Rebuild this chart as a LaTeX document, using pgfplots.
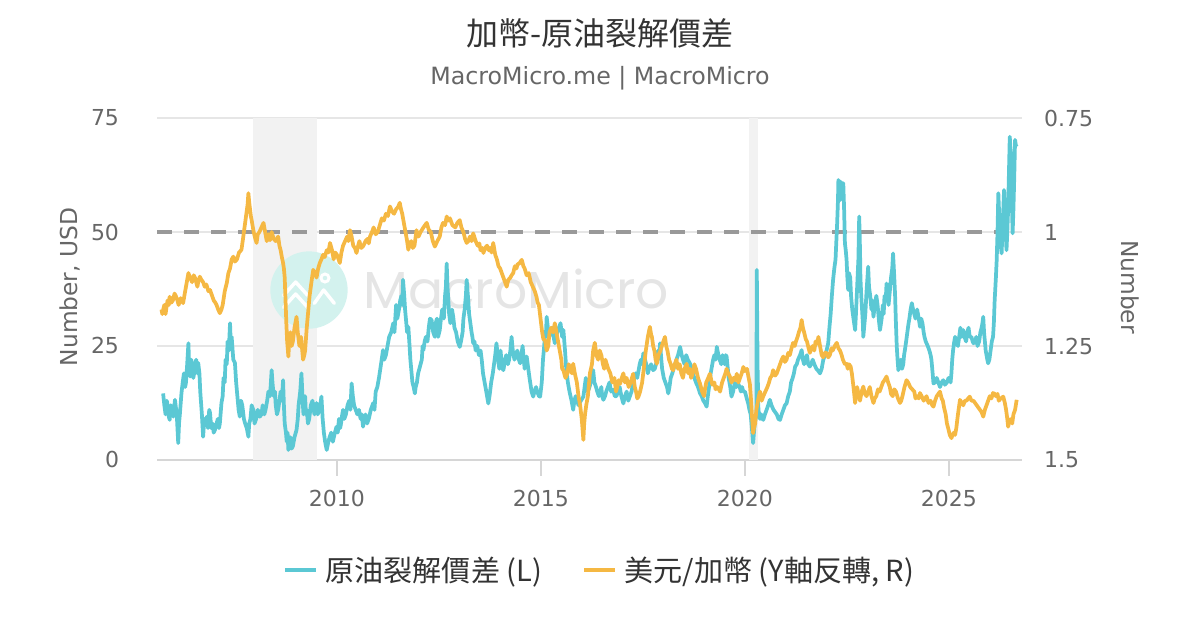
\documentclass[border=0pt]{standalone}
\usepackage{pgfplots}
\pgfplotsset{compat=1.18}
\usepackage{fontspec}
\setmainfont{DejaVu Sans}
\newfontfamily\cjk{Noto Sans CJK TC}
\newfontfamily\wm{Poppins}
\definecolor{cyanL}{HTML}{5BC8D4}
\definecolor{orangeR}{HTML}{F5B843}
\definecolor{gridc}{HTML}{E6E6E6}
\definecolor{dashc}{HTML}{999999}
\definecolor{recc}{HTML}{F2F2F2}
\definecolor{txt}{HTML}{666666}
\definecolor{ttl}{HTML}{333333}
\definecolor{tickc}{HTML}{D6D6D6}
\definecolor{wmc}{HTML}{E5E5E5}
\definecolor{logoc}{HTML}{D3F2EE}

\pgfplotstableread{
x y
2005.74 14.6
2005.77 12
2005.80 10
2005.83 13
2005.85 12
2005.88 9.5
2005.90 8.8
2005.93 12
2005.95 11.5
2005.99 9.5
2006.03 13.2
2006.06 11
2006.08 9
2006.11 3.7
2006.13 8
2006.15 10
2006.19 14.7
2006.22 17
2006.25 19
2006.28 16
2006.30 17
2006.33 21
2006.36 25.6
2006.38 20
2006.40 18.3
2006.43 22
2006.45 21
2006.48 18
2006.50 19
2006.53 21
2006.55 22
2006.58 19
2006.60 21.3
2006.63 19
2006.65 15
2006.69 10
2006.72 5.1
2006.75 9
2006.78 8
2006.81 9.5
2006.84 7
2006.87 11
2006.89 10.3
2006.92 7
2006.95 8
2006.98 6
2007.01 6.6
2007.05 8
2007.08 9
2007.11 7
2007.13 8
2007.17 12.5
2007.20 14
2007.22 18
2007.25 17
2007.27 22
2007.30 21
2007.32 26
2007.35 24
2007.38 30
2007.40 25
2007.42 27
2007.46 22
2007.50 21.3
2007.53 17
2007.56 14
2007.59 11
2007.62 9.5
2007.65 13
2007.68 12
2007.72 9
2007.75 8
2007.79 7
2007.83 5.1
2007.85 8
2007.88 9
2007.91 12
2007.95 11
2007.98 8
2008.02 9
2008.06 11
2008.11 9.5
2008.15 10
2008.18 12
2008.22 10
2008.25 11
2008.29 13
2008.32 15
2008.36 14
2008.40 19.7
2008.42 17
2008.45 14
2008.48 15
2008.50 12
2008.53 10
2008.56 11
2008.59 13
2008.62 15
2008.65 13
2008.68 17.5
2008.70 12
2008.72 8
2008.75 6
2008.77 4
2008.79 6
2008.81 2.2
2008.84 4
2008.86 5
2008.89 2.5
2008.92 3
2008.96 5
2009.01 6.6
2009.04 9
2009.06 12
2009.10 15
2009.13 19
2009.16 13
2009.18 10
2009.20 12
2009.22 14
2009.24 10
2009.26 11
2009.29 8
2009.32 9
2009.36 12
2009.40 13
2009.43 11
2009.45 10
2009.48 11
2009.50 12.5
2009.53 10
2009.56 11
2009.59 12
2009.62 13.9
2009.65 9
2009.68 6
2009.71 4
2009.75 2.2
2009.79 4
2009.82 5
2009.86 6
2009.90 4
2009.95 6
2009.99 7.3
2010.02 6
2010.05 9
2010.08 7
2010.10 8
2010.13 10
2010.15 11
2010.18 9
2010.22 10
2010.26 12
2010.30 13
2010.33 11
2010.36 16.8
2010.39 14
2010.42 12
2010.46 11
2010.50 10
2010.54 11
2010.58 9
2010.61 10
2010.64 7.3
2010.67 9
2010.70 10
2010.74 8
2010.78 9
2010.83 11
2010.89 12.5
2010.92 11
2010.95 15
2010.99 16
2011.03 18
2011.08 21
2011.13 24.1
2011.16 22
2011.20 23
2011.24 25
2011.28 27
2011.33 28
2011.38 30
2011.41 28
2011.45 34
2011.48 31
2011.52 33
2011.55 35
2011.58 36
2011.60 34
2011.62 39.5
2011.65 36
2011.67 33
2011.70 30
2011.72 28
2011.75 29.2
2011.78 25
2011.80 22
2011.83 19
2011.85 17
2011.88 16
2011.91 14.6
2011.93 16
2011.96 17
2011.99 19
2012.02 20
2012.05 21
2012.08 22
2012.10 25
2012.12 24.1
2012.15 26
2012.18 27
2012.22 26
2012.25 29
2012.28 31
2012.32 30.7
2012.36 28
2012.40 27
2012.42 30
2012.45 31
2012.48 27
2012.52 28.5
2012.55 31
2012.58 33
2012.62 31
2012.65 36
2012.67 38
2012.69 43.1
2012.71 38
2012.73 35
2012.75 32
2012.78 30
2012.82 33
2012.85 31.4
2012.88 29
2012.92 28
2012.96 26
2013.01 24.8
2013.04 26
2013.08 28
2013.10 31
2013.13 33
2013.16 36
2013.18 39.5
2013.21 36
2013.24 32
2013.27 30
2013.30 28
2013.32 27
2013.34 25.6
2013.37 26
2013.40 24
2013.44 25
2013.48 23
2013.52 24
2013.55 21.9
2013.58 19
2013.62 17
2013.66 15
2013.71 12.4
2013.74 14
2013.78 17
2013.82 19
2013.85 21
2013.88 23
2013.91 25.6
2013.95 22
2013.98 20
2014.01 24
2014.03 22
2014.06 20
2014.08 19.7
2014.12 22
2014.15 23
2014.19 21
2014.22 22
2014.25 24
2014.28 27
2014.31 24
2014.35 22
2014.39 23
2014.42 24
2014.46 22
2014.49 21.2
2014.52 23
2014.55 25
2014.58 22
2014.60 20
2014.62 21
2014.65 22.7
2014.69 20
2014.72 18
2014.77 15
2014.81 13.9
2014.84 15
2014.88 16
2014.91 15
2014.95 14
2014.98 13.9
2015.02 17
2015.05 22
2015.08 25
2015.10 28
2015.12 27
2015.14 31.4
2015.17 29
2015.20 27
2015.23 28
2015.27 29
2015.31 27
2015.34 25.6
2015.37 27
2015.40 28
2015.44 29
2015.48 30
2015.52 27
2015.55 28.5
2015.59 24
2015.62 20
2015.66 17
2015.70 15
2015.75 13
2015.79 11
2015.82 13
2015.85 14
2015.89 13
2015.92 12
2015.98 13
2016.04 13.9
2016.07 16
2016.10 18
2016.13 16
2016.15 15
2016.19 16
2016.22 17
2016.25 18
2016.28 19.7
2016.31 17
2016.35 16
2016.38 15
2016.42 14
2016.45 15
2016.48 16
2016.50 14
2016.53 13.2
2016.57 14
2016.60 15
2016.64 16
2016.68 17
2016.72 15
2016.77 15.4
2016.81 14
2016.85 14
2016.89 15
2016.93 16
2016.97 14
2017.02 12.4
2017.06 14
2017.10 15
2017.14 13
2017.18 14
2017.22 15
2017.26 16.8
2017.29 18
2017.32 19
2017.36 18
2017.40 20
2017.42 21
2017.45 22
2017.48 21
2017.51 23.4
2017.55 22
2017.58 21
2017.62 19
2017.65 20
2017.70 21
2017.75 19.7
2017.79 20
2017.82 21
2017.85 22
2017.87 24
2017.90 23
2017.92 25.6
2017.95 22
2017.97 20
2018.01 18
2018.05 17
2018.09 16
2018.12 14.6
2018.15 16
2018.18 18
2018.22 19
2018.25 20
2018.29 21
2018.32 22
2018.36 23
2018.41 24.8
2018.45 23
2018.48 22
2018.52 21
2018.56 23
2018.60 22
2018.65 21.2
2018.69 20
2018.72 19
2018.76 18
2018.80 17
2018.85 16
2018.90 14.6
2018.94 14
2018.98 13
2019.02 12.5
2019.06 11.7
2019.09 14
2019.12 16
2019.16 19
2019.20 21
2019.22 22
2019.25 23
2019.28 22
2019.31 24.8
2019.35 23
2019.38 22
2019.42 21
2019.45 23
2019.48 22
2019.50 21
2019.53 23
2019.55 22.7
2019.58 20
2019.60 18
2019.64 16
2019.67 13.9
2019.71 15
2019.75 17
2019.79 16
2019.83 16.8
2019.87 16
2019.90 15
2019.93 16
2019.96 15
2020.00 15
2020.03 14
2020.06 13
2020.08 12.4
2020.11 11
2020.14 10
2020.17 7
2020.20 3.7
2020.22 6
2020.24 8
2020.26 9
2020.28 10
2020.29 41.7
2020.31 20
2020.33 11
2020.37 9
2020.40 10
2020.43 9
2020.45 8.8
2020.49 10
2020.53 11
2020.57 12
2020.61 13.2
2020.65 12
2020.70 11
2020.74 10.5
2020.78 10
2020.82 9
2020.86 8.8
2020.90 10
2020.94 11
2020.98 12
2021.02 12.4
2021.06 14
2021.10 15
2021.13 17
2021.17 18
2021.20 19
2021.23 20.5
2021.27 21
2021.30 22
2021.35 23
2021.39 24.1
2021.42 22
2021.45 21
2021.48 22
2021.52 23
2021.55 21
2021.59 20.5
2021.62 21
2021.66 22
2021.70 21
2021.75 20
2021.80 19.5
2021.84 19
2021.88 20
2021.92 22
2021.96 23
2022.00 24
2022.04 25.6
2022.07 29
2022.10 32
2022.13 36
2022.16 39.5
2022.19 42
2022.22 44
2022.24 48
2022.26 52
2022.28 57
2022.29 61.4
2022.31 59
2022.33 57
2022.35 61
2022.37 60
2022.39 58
2022.41 60.7
2022.43 55
2022.45 47.5
2022.47 46
2022.49 44
2022.51 40
2022.53 37.3
2022.55 41
2022.58 40
2022.60 36
2022.63 33
2022.66 31
2022.70 28.5
2022.72 32
2022.75 38
2022.78 44
2022.80 53.4
2022.82 46
2022.83 40
2022.85 36
2022.87 33
2022.89 30
2022.90 27
2022.93 30
2022.95 32
2022.98 37
2023.02 42.4
2023.04 38
2023.07 36
2023.10 33
2023.12 35
2023.15 31.4
2023.18 34
2023.22 36
2023.25 34
2023.27 32
2023.29 30
2023.31 28.5
2023.35 31
2023.38 34
2023.40 32
2023.42 36
2023.45 35
2023.47 38.7
2023.50 36
2023.52 34
2023.55 37
2023.58 40
2023.61 42
2023.63 45.3
2023.66 40
2023.68 36
2023.70 30
2023.72 25
2023.74 22
2023.76 19.7
2023.79 21
2023.82 22
2023.85 20
2023.88 21
2023.90 23
2023.92 24.1
2023.95 26
2023.98 28
2024.01 30
2024.03 31
2024.06 33
2024.09 34.4
2024.12 33
2024.15 32
2024.18 31
2024.22 33
2024.26 31
2024.29 29.2
2024.32 31
2024.35 30
2024.38 28
2024.40 27
2024.43 26
2024.45 25.6
2024.48 25
2024.52 24
2024.55 23
2024.57 22
2024.60 19
2024.62 16.8
2024.66 17
2024.70 18
2024.74 17
2024.78 16
2024.82 17
2024.86 17.5
2024.90 16.5
2024.95 17
2024.99 18
2025.02 18
2025.04 17
2025.06 19
2025.08 22
2025.10 24
2025.13 26
2025.15 27
2025.18 26
2025.22 25
2025.25 27
2025.28 29
2025.31 27
2025.35 28.5
2025.38 27
2025.42 26
2025.45 28
2025.48 29
2025.51 27
2025.55 27
2025.58 26
2025.60 25.6
2025.64 26
2025.67 27
2025.70 25
2025.74 26
2025.77 28
2025.80 29
2025.82 30
2025.84 31.4
2025.86 28
2025.88 26
2025.90 24
2025.92 23
2025.94 22
2025.96 21.2
2025.99 22
2026.02 24
2026.05 26
2026.08 27
2026.10 30
2026.12 35
2026.15 40
2026.17 43.9
2026.19 50
2026.21 58.5
2026.23 54
2026.25 50
2026.27 47
2026.29 45.3
2026.32 52
2026.35 59.2
2026.37 55
2026.38 52
2026.40 48
2026.41 46
2026.43 50
2026.45 55
2026.47 63
2026.49 70.9
2026.51 68
2026.52 65
2026.54 57
2026.56 49.7
2026.58 55
2026.60 62
2026.62 70.2
2026.64 69
2026.66 68.7
}\crack

\pgfplotstableread{
x y
2005.70 1.17
2005.72 1.18
2005.74 1.171
2005.77 1.16
2005.80 1.18
2005.83 1.16
2005.85 1.15
2005.88 1.16
2005.90 1.142
2005.94 1.155
2005.98 1.15
2006.02 1.135
2006.05 1.14
2006.09 1.15
2006.12 1.16
2006.17 1.145
2006.23 1.156
2006.27 1.135
2006.30 1.12
2006.33 1.105
2006.36 1.09
2006.40 1.10
2006.45 1.11
2006.49 1.095
2006.52 1.10
2006.55 1.11
2006.58 1.12
2006.61 1.105
2006.64 1.098
2006.68 1.105
2006.72 1.11
2006.76 1.12
2006.80 1.115
2006.85 1.13
2006.89 1.127
2006.94 1.14
2006.98 1.15
2007.02 1.155
2007.05 1.16
2007.09 1.17
2007.13 1.178
2007.17 1.17
2007.20 1.16
2007.25 1.13
2007.30 1.112
2007.34 1.09
2007.38 1.08
2007.42 1.06
2007.46 1.054
2007.50 1.065
2007.55 1.06
2007.60 1.045
2007.66 1.039
2007.69 1.02
2007.72 1.00
2007.75 0.98
2007.78 0.96
2007.81 0.94
2007.83 0.915
2007.85 0.935
2007.87 0.95
2007.89 0.965
2007.91 0.974
2007.94 0.99
2007.96 1.00
2008.00 1.015
2008.03 1.024
2008.06 1.005
2008.10 1.00
2008.15 0.99
2008.20 0.98
2008.24 1.00
2008.28 1.02
2008.32 1.005
2008.36 1.018
2008.40 1.00
2008.45 1.015
2008.50 1.02
2008.56 1.01
2008.59 1.03
2008.62 1.04
2008.65 1.055
2008.68 1.068
2008.70 1.08
2008.72 1.10
2008.74 1.15
2008.76 1.20
2008.78 1.24
2008.81 1.273
2008.83 1.24
2008.86 1.22
2008.89 1.25
2008.92 1.24
2008.96 1.21
2009.01 1.186
2009.04 1.22
2009.08 1.25
2009.10 1.24
2009.12 1.23
2009.15 1.26
2009.17 1.28
2009.20 1.27
2009.22 1.26
2009.26 1.21
2009.30 1.17
2009.33 1.14
2009.36 1.12
2009.39 1.10
2009.42 1.083
2009.46 1.09
2009.50 1.10
2009.54 1.08
2009.58 1.068
2009.62 1.06
2009.66 1.05
2009.70 1.055
2009.75 1.04
2009.79 1.045
2009.83 1.024
2009.88 1.04
2009.92 1.06
2009.96 1.045
2010.00 1.05
2010.04 1.06
2010.07 1.068
2010.11 1.045
2010.15 1.03
2010.20 1.02
2010.25 1.01
2010.28 1.02
2010.32 0.996
2010.36 1.01
2010.40 1.03
2010.44 1.035
2010.48 1.046
2010.52 1.03
2010.55 1.02
2010.60 1.035
2010.65 1.03
2010.70 1.02
2010.75 1.015
2010.78 1.025
2010.81 1.01
2010.86 1.00
2010.90 0.99
2010.95 1.005
2011.00 1.00
2011.05 0.985
2011.10 0.97
2011.15 0.975
2011.20 0.96
2011.25 0.965
2011.30 0.944
2011.35 0.955
2011.40 0.96
2011.45 0.95
2011.50 0.945
2011.54 0.936
2011.57 0.95
2011.60 0.96
2011.64 0.98
2011.68 1.00
2011.72 1.02
2011.75 1.039
2011.78 1.025
2011.82 1.02
2011.86 1.035
2011.90 1.03
2011.93 1.01
2011.95 0.996
2012.00 1.01
2012.05 1.00
2012.12 0.99
2012.20 0.98
2012.25 0.995
2012.30 1.00
2012.35 1.02
2012.40 1.032
2012.46 1.02
2012.52 1.01
2012.56 0.99
2012.60 0.98
2012.65 0.985
2012.69 0.966
2012.73 0.975
2012.77 0.97
2012.83 0.985
2012.90 0.99
2012.95 0.98
2013.01 0.974
2013.05 0.99
2013.10 1.00
2013.14 1.015
2013.18 1.024
2013.22 1.02
2013.26 1.01
2013.30 1.02
2013.34 1.003
2013.40 1.02
2013.45 1.03
2013.49 1.025
2013.52 1.04
2013.56 1.035
2013.59 1.046
2013.63 1.035
2013.68 1.03
2013.72 1.04
2013.75 1.035
2013.79 1.045
2013.83 1.024
2013.88 1.05
2013.92 1.06
2013.96 1.075
2014.00 1.08
2014.04 1.09
2014.08 1.10
2014.12 1.11
2014.16 1.12
2014.20 1.105
2014.25 1.10
2014.28 1.095
2014.32 1.09
2014.36 1.075
2014.40 1.08
2014.43 1.07
2014.46 1.07
2014.50 1.065
2014.53 1.061
2014.57 1.075
2014.60 1.08
2014.65 1.095
2014.70 1.09
2014.75 1.11
2014.80 1.12
2014.85 1.13
2014.89 1.142
2014.92 1.155
2014.95 1.16
2014.99 1.19
2015.03 1.22
2015.06 1.235
2015.10 1.237
2015.14 1.26
2015.18 1.25
2015.21 1.22
2015.25 1.21
2015.30 1.22
2015.34 1.20
2015.38 1.22
2015.42 1.24
2015.46 1.26
2015.50 1.28
2015.52 1.30
2015.55 1.303
2015.60 1.32
2015.65 1.31
2015.68 1.29
2015.72 1.30
2015.76 1.31
2015.79 1.289
2015.83 1.31
2015.88 1.33
2015.92 1.36
2015.96 1.38
2016.00 1.41
2016.04 1.456
2016.06 1.42
2016.08 1.40
2016.11 1.38
2016.15 1.36
2016.20 1.31
2016.25 1.29
2016.28 1.26
2016.32 1.243
2016.36 1.27
2016.40 1.28
2016.44 1.26
2016.48 1.27
2016.52 1.29
2016.55 1.30
2016.58 1.28
2016.61 1.289
2016.65 1.30
2016.70 1.31
2016.75 1.33
2016.80 1.32
2016.84 1.35
2016.87 1.34
2016.90 1.325
2016.94 1.333
2016.98 1.32
2017.02 1.31
2017.06 1.33
2017.10 1.32
2017.15 1.34
2017.20 1.33
2017.23 1.32
2017.26 1.311
2017.30 1.34
2017.33 1.35
2017.36 1.365
2017.39 1.361
2017.43 1.35
2017.48 1.33
2017.52 1.30
2017.57 1.26
2017.62 1.23
2017.67 1.208
2017.70 1.225
2017.72 1.23
2017.75 1.25
2017.78 1.26
2017.81 1.28
2017.84 1.289
2017.88 1.27
2017.93 1.26
2017.98 1.245
2018.04 1.23
2018.07 1.25
2018.10 1.26
2018.14 1.28
2018.18 1.29
2018.21 1.30
2018.24 1.303
2018.28 1.29
2018.32 1.28
2018.36 1.30
2018.40 1.29
2018.44 1.31
2018.48 1.32
2018.52 1.30
2018.57 1.289
2018.61 1.31
2018.65 1.30
2018.68 1.32
2018.72 1.31
2018.76 1.29
2018.80 1.30
2018.85 1.32
2018.90 1.333
2018.95 1.35
2019.00 1.36
2019.02 1.345
2019.05 1.33
2019.10 1.32
2019.14 1.311
2019.20 1.335
2019.25 1.33
2019.28 1.345
2019.32 1.34
2019.36 1.345
2019.39 1.35
2019.44 1.33
2019.48 1.32
2019.52 1.31
2019.55 1.30
2019.59 1.31
2019.63 1.317
2019.67 1.33
2019.72 1.32
2019.76 1.325
2019.80 1.311
2019.84 1.33
2019.88 1.32
2019.92 1.31
2019.96 1.296
2020.00 1.305
2020.05 1.30
2020.09 1.32
2020.12 1.333
2020.15 1.37
2020.17 1.40
2020.20 1.441
2020.22 1.43
2020.25 1.42
2020.28 1.39
2020.30 1.38
2020.34 1.36
2020.37 1.35
2020.41 1.37
2020.45 1.36
2020.50 1.35
2020.55 1.34
2020.59 1.33
2020.62 1.32
2020.66 1.315
2020.69 1.303
2020.74 1.315
2020.78 1.31
2020.82 1.30
2020.86 1.29
2020.90 1.28
2020.94 1.273
2020.98 1.285
2021.02 1.28
2021.06 1.265
2021.10 1.27
2021.14 1.255
2021.18 1.243
2021.22 1.25
2021.25 1.24
2021.29 1.23
2021.32 1.22
2021.36 1.21
2021.39 1.193
2021.42 1.21
2021.45 1.22
2021.49 1.235
2021.52 1.24
2021.56 1.255
2021.59 1.265
2021.63 1.255
2021.66 1.25
2021.70 1.26
2021.73 1.24
2021.77 1.245
2021.80 1.23
2021.84 1.25
2021.88 1.27
2021.92 1.275
2021.95 1.265
2022.00 1.265
2022.04 1.275
2022.08 1.27
2022.12 1.255
2022.15 1.26
2022.20 1.25
2022.25 1.243
2022.29 1.255
2022.33 1.26
2022.37 1.27
2022.40 1.28
2022.45 1.29
2022.49 1.289
2022.52 1.30
2022.55 1.29
2022.59 1.295
2022.62 1.31
2022.66 1.34
2022.70 1.375
2022.72 1.36
2022.75 1.34
2022.79 1.36
2022.82 1.37
2022.86 1.35
2022.90 1.339
2022.94 1.355
2022.98 1.36
2023.02 1.35
2023.06 1.34
2023.10 1.36
2023.15 1.375
2023.18 1.365
2023.22 1.36
2023.26 1.345
2023.30 1.35
2023.34 1.34
2023.38 1.33
2023.42 1.325
2023.47 1.317
2023.51 1.33
2023.55 1.34
2023.58 1.355
2023.62 1.36
2023.66 1.345
2023.70 1.35
2023.75 1.365
2023.80 1.375
2023.83 1.37
2023.86 1.36
2023.91 1.34
2023.96 1.325
2024.00 1.33
2024.05 1.34
2024.10 1.345
2024.15 1.35
2024.18 1.365
2024.22 1.36
2024.26 1.365
2024.29 1.353
2024.33 1.36
2024.38 1.37
2024.42 1.365
2024.45 1.36
2024.50 1.375
2024.55 1.37
2024.59 1.38
2024.62 1.383
2024.66 1.37
2024.70 1.36
2024.74 1.355
2024.78 1.35
2024.82 1.365
2024.85 1.37
2024.88 1.385
2024.92 1.40
2024.95 1.42
2024.98 1.43
2025.02 1.445
2025.06 1.452
2025.09 1.445
2025.12 1.44
2025.15 1.445
2025.18 1.43
2025.22 1.40
2025.27 1.368
2025.31 1.375
2025.35 1.38
2025.39 1.37
2025.43 1.37
2025.47 1.365
2025.51 1.361
2025.55 1.37
2025.60 1.37
2025.64 1.375
2025.68 1.38
2025.72 1.385
2025.76 1.39
2025.80 1.395
2025.84 1.405
2025.88 1.39
2025.92 1.38
2025.96 1.37
2026.00 1.36
2026.04 1.365
2026.08 1.353
2026.12 1.355
2026.15 1.36
2026.19 1.355
2026.22 1.37
2026.27 1.365
2026.33 1.361
2026.37 1.375
2026.40 1.39
2026.43 1.41
2026.45 1.427
2026.48 1.415
2026.52 1.41
2026.55 1.42
2026.58 1.40
2026.62 1.39
2026.66 1.368
}\cad

\begin{document}
\begin{tikzpicture}
\path[use as bounding box] (0,0) rectangle (900pt,472.5pt);
\node[text=ttl, font=\cjk\fontsize{24}{28}\selectfont] at (450pt,447.75pt) {加幣-原油裂解價差};
\node[text=txt, font=\fontsize{17.8}{21}\selectfont] at (450pt,414pt) {MacroMicro.me | MacroMicro};
\node[text=txt, rotate=90, font=\fontsize{17.5}{21}\selectfont] at (52.5pt,257.25pt) {Number, USD};
\node[text=txt, rotate=-90, font=\fontsize{17.5}{21}\selectfont] at (847.5pt,257.25pt) {Number};

\begin{axis}[
  at={(117.75pt,127.5pt)}, anchor=south west,
  width=648.75pt, height=256.5pt, scale only axis,
  xmin=2005.59, xmax=2026.79, ymin=0, ymax=75,
  xtick={2010,2015,2020,2025},
  ytick={0,25,50,75},
  ymajorgrids, major grid style={draw=gridc, line width=1.1pt},
  axis x line*=bottom, axis y line*=left,
  x axis line style={draw=tickc, line width=1.4pt, -},
  y axis line style={draw=none},
  xtick style={draw=tickc, line width=1.4pt},
  ytick style={draw=none},
  major tick length=12pt, tick align=outside,
  ticklabel style={text=txt, font=\fontsize{16.5}{20}\selectfont},
  /pgf/number format/assume math mode=true,
  xticklabel style={/pgf/number format/1000 sep={}, yshift=-7pt},
  yticklabel style={xshift=-13pt},
  clip=false,
]
\addplot[draw=none, fill=recc] coordinates {(2007.94,75) (2009.51,75)} \closedcycle;
\addplot[draw=none, fill=recc] coordinates {(2020.10,75) (2020.32,75)} \closedcycle;
\node[circle, fill=logoc, minimum size=58pt, inner sep=0pt] at (rel axis cs:0.1757,0.497) {};
\draw[white, line width=2.6pt, line cap=round, line join=round]
  ([shift={(-19pt,-4pt)}]rel axis cs:0.1757,0.497) -- ([shift={(-10pt,6pt)}]rel axis cs:0.1757,0.497) -- ([shift={(-1pt,-4pt)}]rel axis cs:0.1757,0.497);
\draw[white, line width=2.6pt, line cap=round, line join=round]
  ([shift={(-19pt,-13pt)}]rel axis cs:0.1757,0.497) -- ([shift={(-10pt,-3pt)}]rel axis cs:0.1757,0.497) -- ([shift={(-1pt,-13pt)}]rel axis cs:0.1757,0.497);
\draw[white, line width=2.6pt, line cap=round, line join=round]
  ([shift={(4pt,-10pt)}]rel axis cs:0.1757,0.497) -- ([shift={(11pt,0pt)}]rel axis cs:0.1757,0.497) -- ([shift={(19pt,-10pt)}]rel axis cs:0.1757,0.497);
\node[circle, draw=white, line width=2.2pt, minimum size=6pt, inner sep=0pt] at ([shift={(12pt,9pt)}]rel axis cs:0.1757,0.497) {};
\node[anchor=west, text=wmc, font=\wm\fontsize{39}{43}\selectfont] at (rel axis cs:0.233,0.501) {MacroMicro};
\addplot[dashc, line width=2.5pt, dash pattern=on 11.25pt off 9pt] coordinates {(2005.59,50) (2026.60,50)};
\addplot[cyanL, line width=2.8pt, line join=round] table {\crack};
\end{axis}

\begin{axis}[
  at={(117.75pt,127.5pt)}, anchor=south west,
  width=648.75pt, height=256.5pt, scale only axis,
  xmin=2005.59, xmax=2026.79, ymin=0.75, ymax=1.5, y dir=reverse,
  axis x line=none,
  axis y line*=right,
  axis line style={draw=none},
  ytick={0.75,1,1.25,1.5},
  yticklabels={0.75,1,1.25,1.5},
  y tick style={draw=none},
  ticklabel style={text=txt, font=\fontsize{16.5}{20}\selectfont},
  yticklabel style={anchor=west, xshift=13pt},
  legend style={at={(axis description cs:0.5121,-0.3216)}, anchor=center, draw=none, fill=none,
     font=\cjk\fontsize{21.8}{26}\selectfont, text=ttl, legend columns=2,
     /tikz/every odd column/.append style={column sep=4pt},
     /tikz/every even column/.append style={column sep=28pt}},
  legend image code/.code={\draw[#1, line width=3pt] (0pt,0pt) -- (23pt,0pt);},
]
\addlegendimage{cyanL}
\addlegendentry{原油裂解價差 (L)}
\addplot[orangeR, line width=2.8pt, line join=round] table {\cad};
\addlegendentry{美元/加幣 (Y軸反轉, R)}
\end{axis}
\end{tikzpicture}
\end{document}
